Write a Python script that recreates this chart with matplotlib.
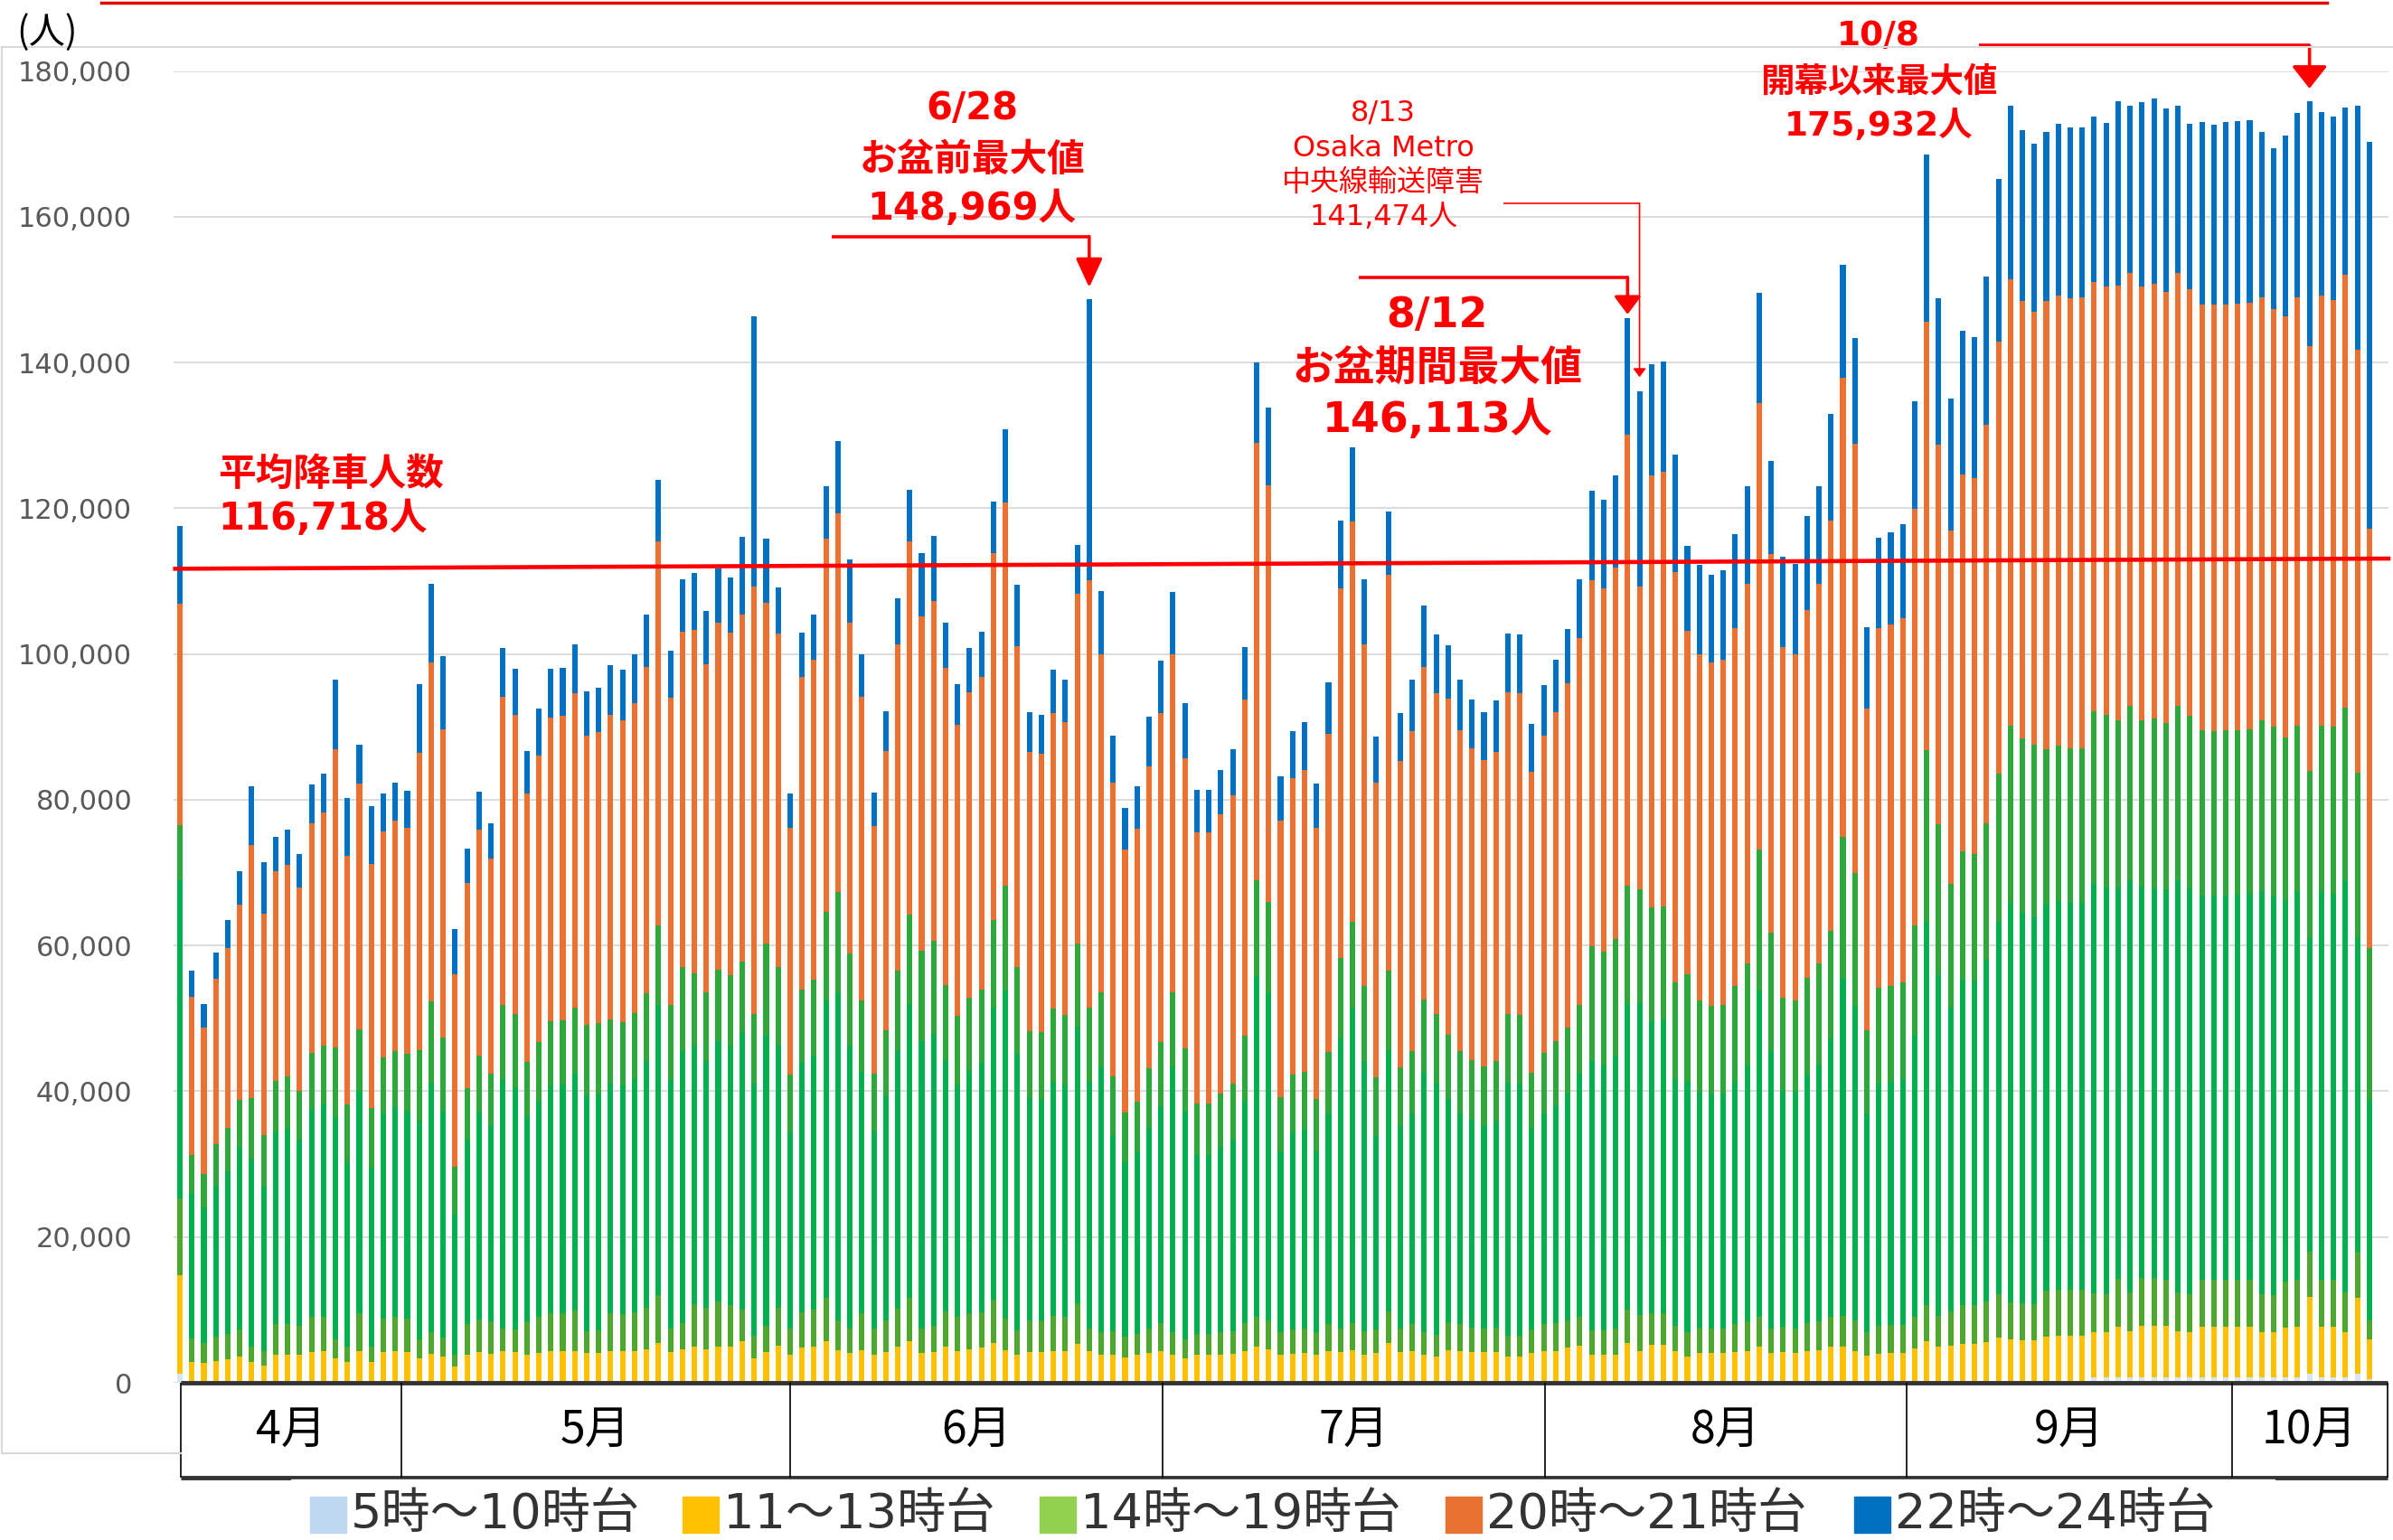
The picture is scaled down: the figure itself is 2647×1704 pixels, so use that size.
import numpy as np
import matplotlib.pyplot as plt
from matplotlib.patches import Rectangle
from matplotlib.lines import Line2D

plt.rcParams['font.family'] = ['DejaVu Sans', 'Noto Sans CJK JP']

# 会期 4/13 - 10/13 (日別), 値は千人単位で図から読み取り
months = ['4月', '5月', '6月', '7月', '8月', '9月', '10月']
month_days = [18, 31, 30, 31, 31, 30, 13]
series_labels = ['5時～10時台', '11～13時台', '14時～19時台', '20時～21時台', '22時～24時台']

# 各帯の上端 (千人)
top_total = [
    # 4月
    117.6, 56.6, 52.0, 59.0, 63.5, 70.2, 81.8, 71.4, 74.9, 75.9, 72.6, 82.1, 83.6, 96.5, 80.2, 87.6, 79.1, 80.8,
    # 5月
    82.4, 81.2, 95.9, 109.6, 99.7, 62.3, 73.3, 81.1, 76.8, 100.8, 98.0, 86.7, 92.5, 98.0, 98.1, 101.3,
    94.9, 95.4, 98.5, 97.8, 100.0, 105.4, 123.9, 100.4, 110.2, 111.1, 105.9, 111.7, 110.5, 116.1, 146.3,
    # 6月
    115.8, 109.1, 80.9, 102.9, 105.4, 123.0, 129.2, 113.0, 100.0, 81.0, 92.2, 107.6, 122.5, 113.9, 116.2,
    104.3, 95.9, 100.8, 103.0, 120.9, 130.9, 109.5, 92.0, 91.7, 97.8, 96.5, 115.0, 148.7, 108.6, 88.8,
    # 7月
    78.9, 81.9, 91.4, 99.1, 108.5, 93.2, 81.3, 81.3, 84.1, 86.9, 101.0, 140.0, 133.8, 83.2, 89.4, 90.6,
    82.2, 96.1, 118.3, 128.4, 110.2, 88.7, 119.6, 91.9, 96.5, 106.7, 102.7, 101.2, 96.5, 93.8, 92.0,
    # 8月
    93.6, 102.8, 102.7, 90.4, 95.7, 99.2, 103.4, 110.3, 122.4, 121.2, 124.5, 146.1, 136.0, 139.8, 140.2,
    127.4, 114.8, 112.2, 110.9, 111.5, 116.4, 123.0, 149.6, 126.5, 113.4, 112.3, 118.9, 123.0, 132.9, 153.4, 143.4,
    # 9月
    103.7, 116.0, 116.7, 117.8, 134.7, 168.5, 148.8, 135.1, 144.3, 143.5, 151.8, 165.2, 175.2, 171.9, 170.0,
    171.7, 172.7, 172.3, 172.3, 173.7, 172.9, 175.8, 175.2, 175.7, 176.2, 174.9, 175.2, 172.7, 173.0, 172.6,
    # 10月
    173.0, 173.1, 173.2, 171.6, 169.4, 171.1, 174.2, 175.8, 174.4, 173.7, 175.0, 175.2, 170.3]

top_2021 = [
    106.9, 52.9, 48.7, 55.4, 59.6, 65.6, 73.8, 64.4, 70.2, 71.1, 68.0, 76.8, 78.3, 86.9, 72.3, 82.2, 71.2, 75.6,
    77.1, 76.2, 86.5, 98.8, 89.7, 56.1, 68.6, 75.9, 71.9, 94.1, 91.7, 80.9, 86.1, 91.3, 91.5, 94.6,
    88.8, 89.3, 91.7, 90.9, 93.2, 98.2, 115.4, 94.0, 103.1, 103.3, 98.6, 104.3, 102.9, 105.4, 109.3,
    107.0, 102.8, 76.1, 96.9, 99.2, 115.8, 119.3, 104.3, 94.1, 76.4, 86.7, 101.3, 115.4, 105.2, 107.3,
    98.1, 90.3, 94.8, 96.9, 113.9, 120.8, 101.1, 86.6, 86.3, 91.9, 90.7, 108.3, 110.1, 100.0, 82.4,
    73.2, 76.0, 84.6, 91.9, 100.0, 85.7, 75.5, 75.5, 78.0, 80.6, 93.7, 129.0, 123.2, 77.1, 83.0, 84.1,
    76.1, 89.1, 109.0, 118.2, 101.3, 82.3, 110.9, 85.3, 89.4, 98.2, 94.6, 93.9, 89.5, 87.0, 85.4,
    86.6, 94.7, 94.6, 83.8, 88.8, 92.0, 96.0, 102.2, 110.1, 109.0, 111.9, 130.1, 109.3, 124.5, 125.0,
    111.2, 103.2, 99.9, 98.8, 99.2, 103.5, 109.6, 134.4, 113.7, 101.0, 100.0, 106.0, 109.6, 118.3, 137.9, 128.8,
    92.5, 103.5, 104.0, 104.9, 119.9, 145.6, 128.7, 116.9, 124.7, 124.1, 131.4, 142.9, 151.4, 148.5, 146.9,
    148.5, 149.2, 148.8, 148.9, 151.1, 150.4, 150.5, 152.3, 150.4, 150.8, 149.7, 152.3, 150.1, 148.0, 148.0,
    148.0, 148.1, 148.2, 148.9, 147.3, 146.3, 148.9, 142.3, 149.2, 148.6, 152.0, 141.8, 117.2]

top_19 = [
    76.5, 31.2, 28.6, 32.8, 35.0, 38.8, 39.1, 34.0, 41.4, 42.0, 40.1, 45.3, 46.2, 46.0, 38.2, 48.5, 37.7, 44.6,
    45.5, 45.1, 45.7, 52.3, 47.4, 29.7, 40.4, 44.9, 42.4, 51.9, 50.6, 44.0, 46.7, 49.6, 49.7, 51.5,
    49.1, 49.3, 49.8, 49.5, 50.7, 53.5, 62.8, 51.9, 57.0, 56.2, 53.6, 56.7, 55.9, 57.8, 50.6,
    60.3, 57.1, 42.3, 53.9, 55.3, 64.6, 67.3, 58.9, 52.5, 42.4, 48.4, 56.5, 64.2, 59.3, 60.6,
    54.6, 50.3, 52.8, 53.9, 63.5, 68.2, 57.0, 48.3, 48.1, 51.4, 50.5, 60.3, 51.5, 53.6, 42.1,
    37.1, 38.6, 43.1, 46.7, 53.6, 45.9, 38.3, 38.3, 39.7, 41.0, 47.6, 69.0, 66.0, 39.2, 42.3, 42.7,
    38.9, 45.4, 58.3, 63.2, 54.4, 41.9, 56.5, 43.3, 45.5, 52.6, 50.6, 47.7, 45.5, 44.3, 43.4,
    44.1, 50.6, 50.5, 42.5, 45.3, 46.9, 48.8, 51.9, 59.9, 59.1, 60.9, 68.2, 67.7, 65.2, 65.4,
    55.0, 56.1, 52.4, 51.7, 51.9, 54.4, 57.5, 73.2, 61.8, 52.8, 52.4, 55.5, 57.5, 62.0, 74.9, 70.0,
    48.4, 54.2, 54.5, 54.9, 62.8, 86.8, 76.7, 68.4, 72.9, 72.5, 76.8, 83.6, 90.2, 88.4, 87.6,
    86.9, 87.4, 87.1, 87.1, 92.1, 91.6, 90.9, 92.9, 90.9, 91.2, 90.5, 92.9, 91.5, 89.5, 89.4,
    89.5, 89.5, 89.7, 90.9, 90.0, 88.6, 90.1, 83.9, 90.1, 90.0, 92.7, 83.7, 59.6]

top_1518 = [
    69.0, 25.9, 24.0, 27.0, 29.0, 32.2, 30.6, 26.9, 34.4, 34.8, 33.3, 37.5, 38.2, 36.4, 30.1, 40.1, 29.5, 37.0,
    37.8, 37.2, 35.8, 41.0, 37.2, 23.1, 33.4, 37.1, 35.2, 41.5, 40.4, 36.4, 38.6, 40.8, 40.9, 42.4,
    39.3, 39.6, 41.1, 40.8, 41.7, 44.1, 51.8, 41.5, 45.5, 46.3, 44.1, 46.9, 46.1, 48.0, 41.1,
    47.6, 46.3, 34.4, 43.9, 44.9, 52.4, 53.4, 46.3, 42.7, 34.4, 39.3, 45.7, 52.0, 46.9, 47.7,
    44.3, 40.8, 42.8, 43.9, 51.5, 53.8, 45.2, 39.1, 39.0, 41.3, 40.8, 48.8, 41.3, 43.3, 33.9,
    30.3, 31.7, 35.0, 38.0, 43.3, 37.2, 31.3, 31.3, 32.2, 33.3, 38.6, 55.7, 53.4, 31.7, 34.4, 34.7,
    31.7, 36.9, 47.3, 51.3, 44.0, 33.8, 45.6, 35.2, 37.0, 42.5, 41.0, 38.9, 37.0, 36.1, 35.2,
    35.8, 41.0, 41.0, 34.8, 36.9, 38.1, 39.7, 42.4, 44.1, 43.5, 44.9, 52.0, 52.2, 49.6, 49.8,
    41.7, 41.3, 39.9, 39.7, 39.7, 41.3, 43.5, 53.8, 45.5, 40.0, 39.9, 42.3, 43.5, 47.2, 55.4, 51.7,
    36.8, 41.1, 41.3, 41.7, 47.6, 63.3, 55.9, 51.5, 55.3, 55.1, 58.0, 63.2, 65.8, 64.5, 63.9,
    65.6, 66.1, 65.9, 65.9, 68.4, 68.0, 68.0, 68.9, 68.1, 67.8, 67.7, 68.9, 67.8, 66.9, 66.9,
    66.9, 67.0, 67.1, 67.4, 66.7, 66.1, 67.4, 61.0, 67.4, 67.1, 68.8, 61.0, 38.8]

top_14 = [
    25.3, 6.1, 5.4, 6.3, 6.7, 7.3, 5.0, 4.3, 8.1, 8.1, 7.8, 9.0, 9.1, 5.9, 5.0, 9.5, 4.9, 8.8,
    9.1, 8.8, 6.0, 7.0, 6.2, 3.8, 8.0, 8.7, 8.4, 7.5, 7.3, 8.4, 9.1, 9.5, 9.5, 9.9,
    7.1, 7.2, 9.5, 9.4, 9.7, 10.3, 12.0, 7.4, 8.2, 10.8, 10.3, 11.1, 10.7, 10.1, 6.4,
    7.8, 10.3, 7.5, 9.7, 10.1, 11.7, 8.6, 7.5, 9.5, 7.5, 8.6, 10.2, 11.6, 7.5, 7.8,
    9.8, 9.1, 9.5, 9.7, 11.4, 8.8, 7.2, 8.6, 8.5, 9.2, 9.1, 10.9, 7.5, 7.0, 7.1,
    6.3, 6.7, 7.4, 8.2, 7.0, 6.0, 6.7, 6.7, 7.0, 7.1, 8.2, 9.0, 8.5, 6.9, 7.3, 7.4,
    6.9, 8.0, 7.5, 8.2, 7.1, 7.3, 9.8, 7.5, 8.0, 6.9, 6.6, 8.3, 8.0, 7.6, 7.4,
    7.6, 6.5, 6.5, 7.3, 8.0, 8.2, 8.5, 9.1, 7.2, 7.2, 7.4, 10.1, 9.3, 9.5, 9.6,
    7.8, 6.9, 7.6, 7.5, 7.5, 8.0, 8.4, 9.1, 7.5, 7.7, 7.5, 8.2, 8.4, 9.1, 9.2, 8.5,
    7.0, 7.8, 7.9, 7.9, 9.0, 10.7, 9.2, 9.8, 10.7, 10.7, 11.2, 12.2, 11.0, 10.9, 10.8,
    12.6, 12.8, 12.8, 12.8, 12.3, 12.2, 14.3, 12.4, 14.4, 14.4, 14.2, 12.4, 12.2, 14.1, 14.1,
    14.1, 14.1, 14.2, 12.2, 12.0, 13.9, 14.2, 18.0, 14.2, 14.2, 12.4, 18.0, 8.6]

top_1113 = [
    14.7, 2.9, 2.7, 3.0, 3.2, 3.6, 2.9, 2.4, 3.9, 3.9, 3.8, 4.2, 4.3, 3.4, 2.9, 4.4, 2.8, 4.2,
    4.3, 4.2, 3.4, 4.0, 3.6, 2.2, 3.9, 4.2, 4.0, 4.3, 4.2, 3.8, 4.1, 4.3, 4.3, 4.4,
    4.1, 4.1, 4.3, 4.3, 4.4, 4.6, 5.4, 4.2, 4.6, 4.9, 4.6, 5.0, 4.9, 5.7, 3.4,
    4.2, 5.1, 3.8, 4.8, 4.9, 5.7, 4.5, 4.1, 4.5, 3.9, 4.2, 5.0, 5.7, 4.1, 4.2,
    4.9, 4.4, 4.6, 4.8, 5.4, 4.5, 3.9, 4.2, 4.2, 4.4, 4.4, 5.3, 4.3, 3.9, 3.9,
    3.5, 3.8, 4.1, 4.4, 3.9, 3.3, 3.8, 3.8, 3.9, 4.0, 4.4, 4.9, 4.6, 3.8, 4.0, 4.1,
    3.8, 4.3, 4.2, 4.5, 3.9, 4.1, 5.4, 4.2, 4.3, 3.8, 3.6, 4.5, 4.3, 4.2, 4.2,
    4.2, 3.6, 3.6, 4.1, 4.4, 4.4, 4.8, 5.1, 3.9, 3.9, 3.9, 5.4, 4.3, 5.2, 5.2,
    4.3, 3.6, 4.1, 4.1, 4.1, 4.2, 4.4, 4.9, 4.1, 4.2, 4.1, 4.3, 4.5, 5.0, 5.0, 4.4,
    3.7, 4.0, 4.1, 4.1, 4.7, 5.7, 5.0, 5.1, 5.3, 5.3, 5.6, 6.2, 5.9, 5.8, 5.8,
    6.3, 6.5, 6.5, 6.5, 7.0, 7.0, 7.7, 7.1, 7.8, 7.8, 7.8, 7.1, 7.0, 7.7, 7.7,
    7.7, 7.7, 7.7, 7.0, 6.9, 7.6, 7.7, 11.8, 7.7, 7.7, 7.0, 11.7, 5.9]

top_0510 = [
    1.2, 0.2, 0.2, 0.2, 0.2, 0.2, 0.2, 0.2, 0.2, 0.2, 0.2, 0.2, 0.2, 0.2, 0.2, 0.2, 0.2, 0.2,
    0.2, 0.2, 0.2, 0.2, 0.2, 0.2, 0.2, 0.2, 0.2, 0.2, 0.2, 0.2, 0.2, 0.2, 0.2, 0.2,
    0.2, 0.2, 0.2, 0.2, 0.2, 0.2, 0.2, 0.2, 0.2, 0.2, 0.2, 0.2, 0.2, 0.2, 0.2,
    0.2, 0.2, 0.2, 0.2, 0.2, 0.2, 0.2, 0.2, 0.2, 0.2, 0.2, 0.2, 0.2, 0.2, 0.2,
    0.2, 0.2, 0.2, 0.2, 0.2, 0.2, 0.2, 0.2, 0.2, 0.2, 0.2, 0.2, 0.2, 0.2, 0.2,
    0.2, 0.2, 0.2, 0.2, 0.2, 0.2, 0.2, 0.2, 0.2, 0.2, 0.2, 0.2, 0.2, 0.2, 0.2, 0.2,
    0.2, 0.2, 0.2, 0.2, 0.2, 0.2, 0.2, 0.2, 0.2, 0.2, 0.2, 0.2, 0.2, 0.2, 0.2,
    0.2, 0.2, 0.2, 0.2, 0.2, 0.2, 0.2, 0.2, 0.2, 0.2, 0.2, 0.2, 0.2, 0.2, 0.2,
    0.2, 0.2, 0.2, 0.2, 0.2, 0.2, 0.2, 0.2, 0.2, 0.2, 0.2, 0.2, 0.2, 0.2, 0.2, 0.2,
    0.2, 0.2, 0.2, 0.2, 0.2, 0.2, 0.2, 0.2, 0.2, 0.2, 0.2, 0.2, 0.2, 0.2, 0.2,
    0.2, 0.2, 0.2, 0.2, 0.7, 0.7, 0.7, 0.7, 0.7, 0.7, 0.7, 0.7, 0.7, 0.7, 0.7,
    0.7, 0.7, 0.7, 0.7, 0.7, 0.7, 0.7, 1.2, 0.7, 0.7, 0.7, 1.2, 0.5]

avg_value = 116718
avg_line = [111700, 113100]   # 図上の赤線の左端・右端の高さ

red = '#FF0000'
band_colors = ['#D6E6F4', '#FFC000', '#4EA72E', '#00B050', '#2FA83B', '#E97132', '#0070C0']
legend_colors = ['#BDD7EE', '#FFC000', '#92D050', '#E97132', '#0070C0']

W, H = 2647, 1704
fig = plt.figure(figsize=(W / 100, H / 100), dpi=100)


def fx(px):
    return px / W


def fy(py):
    return 1 - py / H


ax = fig.add_axes([fx(192), fy(1530), fx(2642) - fx(192), fy(78.6) - fy(1530)])

n = len(top_total)
x = np.arange(n)
levels = [top_0510, top_1113, top_14, top_1518, top_19, top_2021, top_total]
base = np.zeros(n)
for lv, c in zip(levels, band_colors):
    lv = np.array(lv) * 1000
    ax.bar(x, lv - base, bottom=base, width=0.46, color=c, linewidth=0)
    base = lv

ax.set_xlim(-0.53, 184.6)
ax.set_ylim(0, 180000)
yt = np.arange(0, 180001, 20000)
ax.set_yticks(yt)
ax.set_yticklabels([f'{v:,}' for v in yt])
ax.tick_params(axis='y', length=0, pad=33, labelsize=22, labelcolor='#595959')
ax.tick_params(axis='x', bottom=False, labelbottom=False)
for s in ax.spines.values():
    s.set_visible(False)
ax.grid(axis='y', color='#D9D9D9', lw=1.3)
ax.set_axisbelow(True)

# 平均線
ax.plot([-0.4, 184.6], avg_line, color=red, lw=3.3, zorder=4, clip_on=False)
ax.text(3.2, 124700, '平均降車人数', ha='left', va='center', fontsize=30, fontweight='bold', color=red)
ax.text(3.2, 118500, f'{avg_value:,}人', ha='left', va='center', fontsize=30, fontweight='bold', color=red)


def callout(x0, x1, y_line, y_tip, lw, ms, hl, hw):
    ax.plot([x0, x1], [y_line, y_line], color=red, lw=lw, clip_on=False, solid_capstyle='butt')
    ax.annotate('', xy=(x1, y_tip), xytext=(x1, y_line), annotation_clip=False,
                arrowprops=dict(arrowstyle=f'-|>,head_length={hl},head_width={hw}', color=red,
                                lw=lw, mutation_scale=ms, shrinkA=0, shrinkB=0))


def label(xc, ys, lines, size, weight):
    for yv, s in zip(ys, lines):
        ax.text(xc, yv, s, ha='center', va='center', fontsize=size, fontweight=weight, color=red)


# 6/28
label(66.2, [174850, 167750, 161050], ['6/28', 'お盆前最大値', '148,969人'], 30, 'bold')
callout(54.5, 76, 157300, 150300, 2.6, 40, 0.49, 0.225)
# 8/13
label(100.6, [174300, 169300, 164700, 159900], ['8/13', 'Osaka Metro', '中央線輸送障害', '141,474人'], 23, 'normal')
callout(110.6, 122, 161900, 138000, 1.2, 14, 0.4, 0.3)
# 8/12
label(105.1, [146450, 139150, 132050], ['8/12', 'お盆期間最大値', '146,113人'], 33, 'bold')
callout(98.5, 121, 151700, 146600, 2.6, 40, 0.3, 0.225)
# 10/8
label(142.0, [184750, 178450, 172350], ['10/8', '開幕以来最大値', '175,932人'], 27, 'bold')
callout(150.4, 178, 183500, 177600, 2.6, 40, 0.38, 0.3)

# 月の表
tab = fig.add_axes([fx(192), fy(1635), fx(2642) - fx(192), fy(1530) - fy(1635)])
tab.set_xlim(ax.get_xlim())
tab.set_ylim(0, 1)
tab.axis('off')
edges = [0.08, 18.5, 51.0, 82.1, 114.1, 144.3, 171.5, 184.5]
tab.hlines([0, 1], edges[0], edges[-1], color='#333333', lw=3.5, clip_on=False)
tab.vlines(edges, 0, 1, color='#000000', lw=1.2, clip_on=False)
for m, a, b in zip(months, edges[:-1], edges[1:]):
    tab.text((a + b) / 2, 0.5, m, ha='center', va='center', fontsize=36, family=['Noto Sans CJK JP'])

# 枠など
fig.add_artist(Line2D([fx(2), fx(2)], [fy(52), fy(1608)], color='#D9D9D9', lw=1.5))
fig.add_artist(Line2D([fx(2), 1], [fy(52), fy(52)], color='#D9D9D9', lw=1.5))
fig.add_artist(Line2D([fx(2), fx(200)], [fy(1608), fy(1608)], color='#D9D9D9', lw=1.5))
fig.add_artist(Line2D([fx(112), fx(2574)], [fy(2.5), fy(2.5)], color='#E00000', lw=2.5))
fig.text(fx(18), fy(36), '(人)', fontsize=29, ha='left', va='center', family=['Noto Sans CJK JP'])

# 凡例
fig.add_artist(Rectangle((fx(322), 0), fx(2516) - fx(322), fy(1637), color='white', zorder=5))
for xs, lab, c in zip([343, 755, 1150, 1599, 2051], series_labels, legend_colors):
    fig.add_artist(Rectangle((fx(xs), fy(1696)), fx(40), 40 / H, color=c, zorder=6))
    fig.text(fx(xs + 45), fy(1676), lab, fontsize=39, color='#333333', ha='left', va='center', zorder=7)

fig.savefig('out.png', dpi=100)
